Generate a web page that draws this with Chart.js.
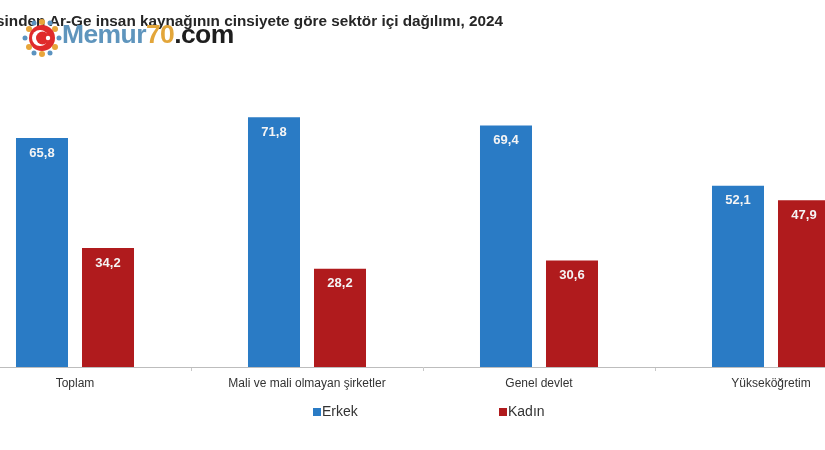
<!DOCTYPE html>
<html>
<head>
<meta charset="utf-8">
<script src="https://cdn.jsdelivr.net/npm/chart.js@4/dist/chart.umd.min.js"></script>
<style>
  html, body { margin: 0; padding: 0; background: #fff; }
  #wrap { position: relative; width: 825px; height: 450px; overflow: hidden; background: #fff; }
  #title { position: absolute; top: 12px; right: 322px; white-space: nowrap; font: bold 15.3px "Liberation Sans", Arial, sans-serif; color: #262626; }
  #chart { position: absolute; left: -41px; top: 0; }
  #legend { position: absolute; top: 401px; left: 0; width: 825px; height: 20px; font: 14px "Liberation Sans", Arial, sans-serif; color: #333; }
  .li { position: absolute; top: 0; white-space: nowrap; line-height: 20px; }
  .sw { display: inline-block; width: 8px; height: 8px; margin-right: 1px; vertical-align: 0px; }
  #logo { position: absolute; left: 22px; top: 18px; height: 36px; white-space: nowrap; }
  #logo svg { position: absolute; left: 0; top: 0; }
  #logo .t { position: absolute; left: 40px; top: 1px; font: bold 26.5px "Liberation Sans", Arial, sans-serif; letter-spacing: -0.6px; }
</style>
</head>
<body>
<div id="wrap">
  <canvas id="chart" width="928" height="450"></canvas>
  <div id="title"></div>
  <div id="logo">
    <svg width="40" height="40" viewBox="0 0 40 40">
      <g fill="#e8a53a"><circle cx="20" cy="4" r="3"/><circle cx="33" cy="11" r="3"/><circle cx="33" cy="29" r="3"/><circle cx="20" cy="36" r="3"/><circle cx="7" cy="29" r="3"/><circle cx="7" cy="11" r="3"/></g>
      <g fill="#5b93c0"><circle cx="28" cy="5" r="2.5"/><circle cx="37" cy="20" r="2.5"/><circle cx="28" cy="35" r="2.5"/><circle cx="12" cy="35" r="2.5"/><circle cx="3" cy="20" r="2.5"/><circle cx="12" cy="5" r="2.5"/></g>
      <circle cx="20" cy="20" r="13" fill="#e02b2b"/>
      <circle cx="18" cy="20" r="8" fill="#fff"/>
      <circle cx="20.5" cy="20" r="6.5" fill="#e02b2b"/>
      <circle cx="26" cy="20" r="2.2" fill="#fff"/>
    </svg>
    <span class="t"><span style="color:#5f95bd">Memur</span><span style="color:#e3a63a">70</span><span style="color:#1e1e1e">.com</span></span>
  </div>
  <div id="legend"></div>
</div>
<script>
const titleText = 'Tam zaman eşdeğeri cinsinden Ar-Ge insan kaynağının cinsiyete göre sektör içi dağılımı, 2024';
const categories = ['Toplam', 'Mali ve mali olmayan şirketler', 'Genel devlet', 'Yükseköğretim'];
const seriesNames = ['Erkek', 'Kadın'];
const erkek = [65.8, 71.8, 69.4, 52.1];
const kadin = [34.2, 28.2, 30.6, 47.9];
const colors = ['#2a7bc5', '#b01b1d'];

document.getElementById('title').textContent = titleText;

const legend = document.getElementById('legend');
const legendLeft = [313, 499];
seriesNames.forEach((n, i) => {
  const d = document.createElement('div');
  d.className = 'li';
  d.style.left = legendLeft[i] + 'px';
  d.innerHTML = '<span class="sw" style="background:' + colors[i] + '"></span>' + n;
  legend.appendChild(d);
});

const valueLabels = {
  id: 'valueLabels',
  afterDatasetsDraw(chart) {
    const ctx = chart.ctx;
    ctx.save();
    ctx.font = 'bold 13px "Liberation Sans", Arial, sans-serif';
    ctx.fillStyle = '#f4f4f4';
    ctx.textAlign = 'center';
    ctx.textBaseline = 'middle';
    chart.data.datasets.forEach((ds, di) => {
      chart.getDatasetMeta(di).data.forEach((el, i) => {
        ctx.fillText(ds.data[i].toFixed(1).replace('.', ','), el.x, el.y + 15);
      });
    });
    ctx.restore();
  }
};

new Chart(document.getElementById('chart'), {
  type: 'bar',
  data: {
    labels: categories,
    datasets: [
      { label: seriesNames[0], data: erkek, backgroundColor: colors[0] },
      { label: seriesNames[1], data: kadin, backgroundColor: colors[1] }
    ]
  },
  options: {
    responsive: false,
    animation: false,
    layout: { padding: { top: 88.6, bottom: 54.6, left: 0, right: 0 } },
    datasets: { bar: { categoryPercentage: 0.569, barPercentage: 0.788 } },
    plugins: { legend: { display: false }, tooltip: { enabled: false }, title: { display: false } },
    scales: {
      y: { display: false, min: 0, max: 80 },
      x: {
        border: { display: true, color: '#bdbdbd', width: 1 },
        grid: { offset: true, drawOnChartArea: false, drawTicks: true, tickLength: 4, color: '#c8c8c8' },
        ticks: { color: '#333', padding: 5, maxRotation: 0, autoSkip: false, font: { family: '"Liberation Sans", Arial, sans-serif', size: 12 } }
      }
    }
  },
  plugins: [valueLabels]
});
</script>
</body>
</html>
